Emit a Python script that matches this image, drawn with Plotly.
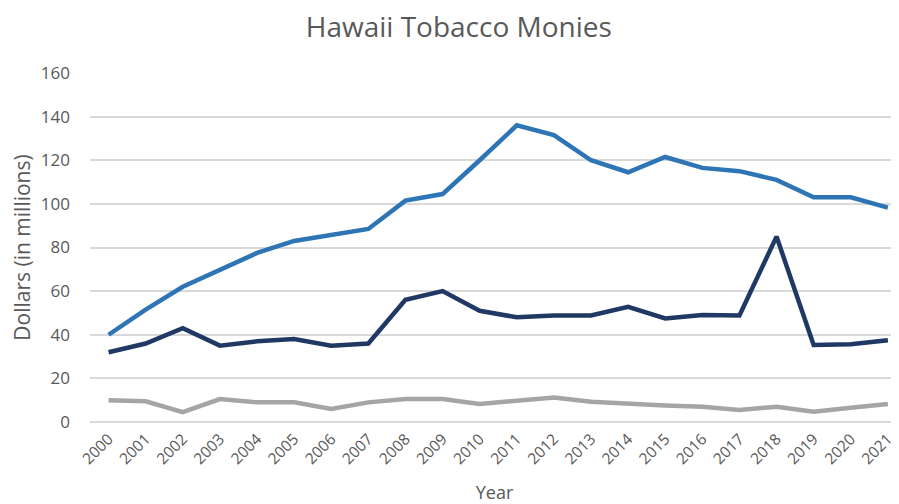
import plotly.graph_objects as go

years = [str(y) for y in range(2000, 2022)]
series_a = [40, 51.5, 62, 70, 77.5, 83, 85.5, 88.5, 101.5, 104.5, 120, 136, 131.5, 120, 114.5, 121.5, 116.5, 115, 111, 103, 103, 98.3]
series_b = [32, 36, 43, 35, 37, 38, 35, 36, 56, 60, 51, 48, 48.8, 48.8, 52.8, 47.5, 49, 48.8, 85, 35.3, 35.6, 37.5]
series_c = [10, 9.5, 4.5, 10.5, 9, 9, 6, 9, 10.5, 10.5, 8.3, 9.8, 11.2, 9.3, 8.3, 7.6, 7, 5.5, 7, 4.7, 6.5, 8.3]
y_ticks = [0, 20, 40, 60, 80, 100, 120, 140, 160]

font_family = "Open Sans, sans-serif"

fig = go.Figure()
fig.add_trace(go.Scatter(x=years, y=series_c, mode="lines",
                         line=dict(color="#A5A5A5", width=4.5), showlegend=False, cliponaxis=False))
fig.add_trace(go.Scatter(x=years, y=series_b, mode="lines",
                         line=dict(color="#203864", width=4.5), showlegend=False, cliponaxis=False))
fig.add_trace(go.Scatter(x=years, y=series_a, mode="lines",
                         line=dict(color="#2E75B6", width=4.5), showlegend=False, cliponaxis=False))

fig.update_layout(
    width=891, height=496,
    paper_bgcolor="white", plot_bgcolor="white",
    margin=dict(l=82, r=0, t=65, b=82),
    title=dict(text="Hawaii Tobacco Monies", x=0.506, xanchor="center", y=0.9607, yanchor="middle",
               font=dict(family=font_family, size=28, color="#595959")),
    font=dict(family=font_family, color="#595959"),
    xaxis=dict(type="category", range=[-0.5, 21.3], tickangle=-45, automargin=False,
               tickfont=dict(size=15.5, color="#595959"), showgrid=False,
               showline=False, ticks="", ticklabelstandoff=4,
               title=dict(text="Year", font=dict(size=18, color="#595959"), standoff=29)),
    yaxis=dict(range=[0, 160], tickvals=y_ticks, showgrid=True, gridcolor="#D9D9D9", gridwidth=1.5,
               automargin=False,
               zeroline=True, zerolinecolor="#D9D9D9", zerolinewidth=1.5,
               tickfont=dict(size=17, color="#595959"), ticks="", ticklabelstandoff=19,
               title=dict(text="Dollars (in millions)", font=dict(size=21, color="#595959"), standoff=15)),
)

fig.write_html("out.html")
